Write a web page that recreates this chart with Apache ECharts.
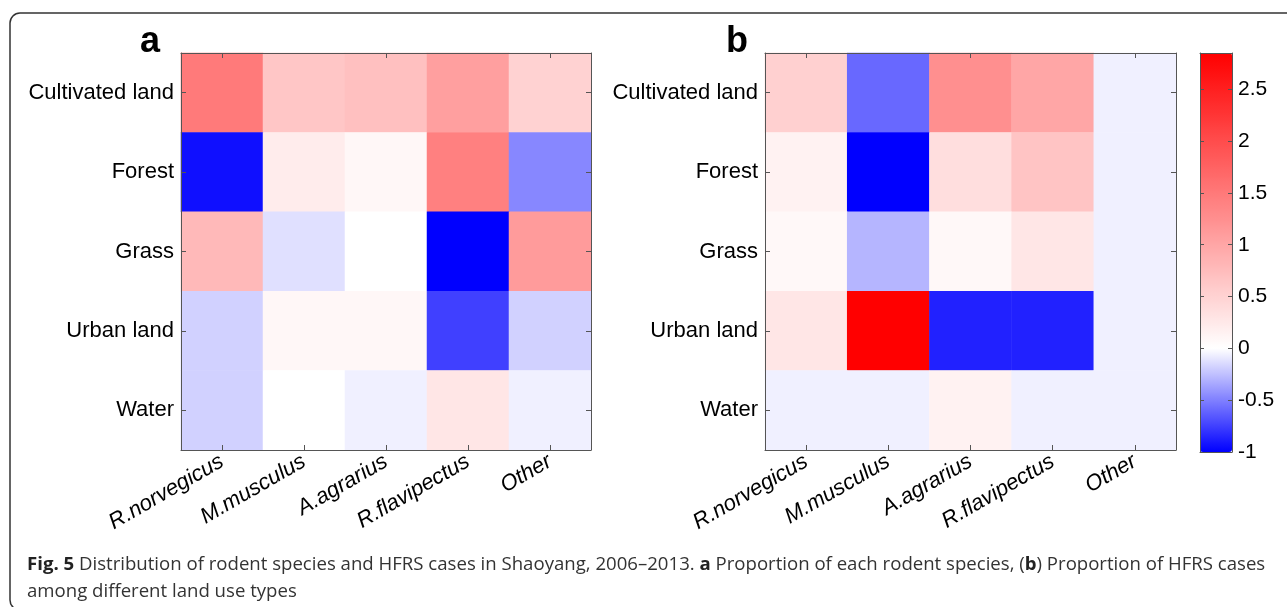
<!DOCTYPE html>
<html>
<head>
<meta charset="utf-8">
<script src="https://cdn.jsdelivr.net/npm/echarts@6/dist/echarts.min.js"></script>
<style>
  html, body { margin: 0; padding: 0; background: #fff; }
  #chart { width: 1287px; height: 607px; }
</style>
</head>
<body>
<div id="chart"></div>
<script>
// categories
const species = ["R.norvegicus", "M.musculus", "A.agrarius", "R.flavipectus", "Other"];
const landTypes = ["Cultivated land", "Forest", "Grass", "Urban land", "Water"];

// (a) proportion of each rodent species, rows = land types, cols = species
const rodentValues = [
  [1.49, 0.64, 0.70, 1.08, 0.50],
  [-0.94, 0.21, 0.09, 1.42, -0.47],
  [0.78, -0.12, 0.0, -1.0, 1.12],
  [-0.18, 0.09, 0.09, -0.75, -0.18],
  [-0.18, 0.0, -0.06, 0.28, -0.06]
];

// (b) proportion of HFRS cases
const caseValues = [
  [0.52, -0.59, 1.25, 1.0, -0.06],
  [0.15, -1.0, 0.37, 0.66, -0.06],
  [0.08, -0.29, 0.08, 0.28, -0.06],
  [0.28, 2.85, -0.87, -0.87, -0.06],
  [-0.06, -0.06, 0.15, -0.06, -0.06]
];

// colour bar
const colorMin = -1;
const colorMax = 2.85;
const colorTickStep = 0.5;

const labelFont = "Liberation Sans, Arial, sans-serif";
const axisColor = "#555";

// blue -> white (0) -> red colour map, sampled evenly for the visualMap
function cmap(v) {
  let r, g, b;
  if (v < 0) {
    const t = Math.min(1, -v / -colorMin);
    r = g = Math.round(255 * (1 - t)); b = 255;
  } else {
    const t = Math.min(1, v / colorMax);
    r = 255; g = b = Math.round(255 * (1 - t));
  }
  return "rgb(" + r + "," + g + "," + b + ")";
}
const colorStops = [];
const nStops = 154;
for (let i = 0; i <= nStops; i++) {
  colorStops.push(cmap(colorMin + (colorMax - colorMin) * i / nStops));
}

function toCells(matrix) {
  const out = [];
  matrix.forEach((row, y) => row.forEach((v, x) => out.push([x, y, v])));
  return out;
}

function heatAxes(gridIndex) {
  const tick = { show: true, inside: true, length: 5, alignWithLabel: true, lineStyle: { color: axisColor } };
  const line = { show: true, lineStyle: { color: axisColor, width: 1 } };
  return {
    x: [
      {
        type: "category", gridIndex, data: species, position: "bottom", z: 3,
        axisLine: line, axisTick: tick, splitLine: { show: false },
        axisLabel: {
          rotate: 30, margin: 10, fontSize: 22, fontStyle: "italic",
          fontFamily: labelFont, color: "#000", interval: 0
        }
      },
      {
        type: "category", gridIndex, data: species, position: "top", z: 3,
        axisLine: line, axisTick: tick, axisLabel: { show: false }
      }
    ],
    y: [
      {
        type: "category", gridIndex, data: landTypes, inverse: true, position: "left", z: 3,
        axisLine: line, axisTick: tick, splitLine: { show: false },
        axisLabel: { margin: 7, fontSize: 22, fontFamily: labelFont, color: "#000", interval: 0 }
      },
      {
        type: "category", gridIndex, data: landTypes, inverse: true, position: "right", z: 3,
        axisLine: line, axisTick: tick, axisLabel: { show: false }
      }
    ]
  };
}

const axA = heatAxes(0);
const axB = heatAxes(1);

const barTick = { show: true, inside: true, length: 4, lineStyle: { color: axisColor } };
const barLine = { show: true, onZero: false, lineStyle: { color: axisColor } };

const chart = echarts.init(document.getElementById("chart"));
chart.setOption({
  animation: false,
  backgroundColor: "#fff",
  grid: [
    { left: 181, top: 53, width: 410, height: 397 },
    { left: 765, top: 53, width: 411, height: 397 },
    { left: 1200, top: 53, width: 32, height: 399 }
  ],
  xAxis: [
    ...axA.x, ...axB.x,
    { type: "category", gridIndex: 2, data: [""], z: 5, axisLine: barLine, axisTick: { show: false }, axisLabel: { show: false } },
    { type: "category", gridIndex: 2, data: [""], position: "top", z: 5, axisLine: barLine, axisTick: { show: false }, axisLabel: { show: false } }
  ],
  yAxis: [
    ...axA.y, ...axB.y,
    {
      type: "value", gridIndex: 2, min: colorMin, max: colorMax, interval: colorTickStep,
      position: "left", z: 5, axisLine: barLine, axisTick: barTick,
      axisLabel: { show: false }, splitLine: { show: false }
    },
    {
      type: "value", gridIndex: 2, min: colorMin, max: colorMax, interval: colorTickStep,
      position: "right", z: 5, axisLine: barLine, axisTick: barTick, splitLine: { show: false },
      axisLabel: { margin: 6, fontSize: 21, fontFamily: labelFont, color: "#000", showMaxLabel: false }
    }
  ],
  visualMap: {
    type: "continuous",
    min: colorMin, max: colorMax,
    seriesIndex: [0, 1],
    calculable: false,
    hoverLink: false,
    left: 1200, top: 53,
    padding: 0,
    itemWidth: 32, itemHeight: 399,
    text: null,
    z: 1,
    inRange: { color: colorStops }
  },
  series: [
    { type: "heatmap", xAxisIndex: 0, yAxisIndex: 0, data: toCells(rodentValues), emphasis: { disabled: true } },
    { type: "heatmap", xAxisIndex: 2, yAxisIndex: 2, data: toCells(caseValues), emphasis: { disabled: true } }
  ],
  graphic: [
    {
      type: "rect", silent: true, z: 0,
      shape: { x: 10, y: 13, width: 1300, height: 597, r: 10 },
      style: { fill: "none", stroke: "#333", lineWidth: 1.5 }
    },
    {
      type: "text", left: 140, top: 24,
      style: { text: "a", font: "bold 36px Liberation Sans, Arial, sans-serif", fill: "#000" }
    },
    {
      type: "text", left: 726, top: 24,
      style: { text: "b", font: "bold 36px Liberation Sans, Arial, sans-serif", fill: "#000" }
    },
    {
      type: "text", left: 27, top: 551,
      style: {
        text: "{b|Fig. 5} Distribution of rodent species and HFRS cases in Shaoyang, 2006–2013. {b|a} Proportion of each rodent species, ({b|b}) Proportion of HFRS cases\namong different land use types",
        fontFamily: "Open Sans, sans-serif", fontSize: 18.6, lineHeight: 27, fill: "#333",
        rich: { b: { fontWeight: "bold", fontFamily: "Open Sans, sans-serif", fontSize: 18.6, fill: "#222" } }
      }
    }
  ]
});
</script>
</body>
</html>
